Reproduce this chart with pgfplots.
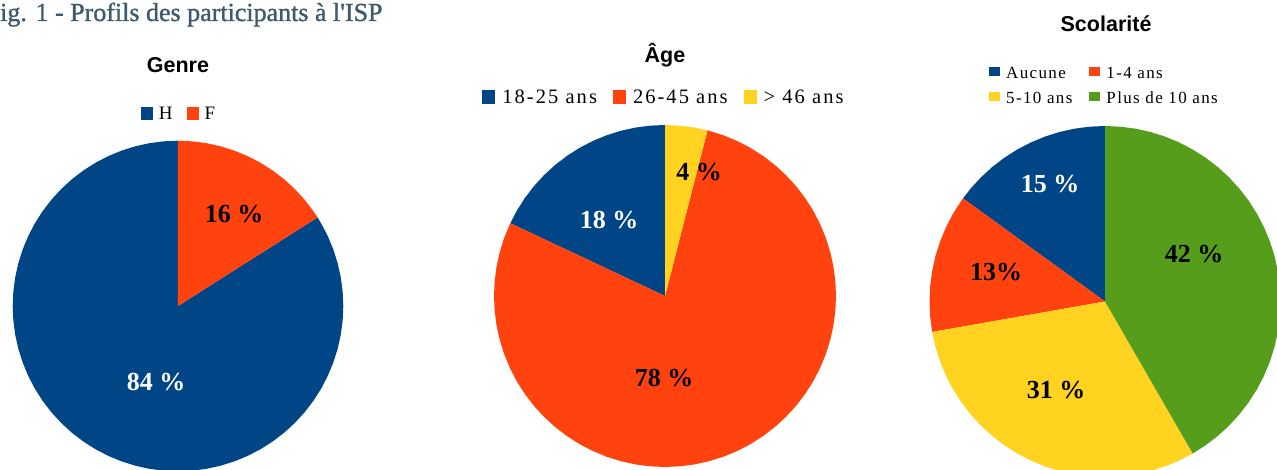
\documentclass[border=0pt]{standalone}
\usepackage{fontspec}
\setmainfont{Liberation Serif}
\newfontfamily\sansf{Liberation Sans}
\newfontfamily\titlefont[Ligatures=TeXOff, FakeBold=1.2]{Liberation Serif}
\newfontfamily\legA[LetterSpace=10]{Liberation Serif}
\newfontfamily\legS[LetterSpace=8]{Liberation Serif}
\usepackage{pgfplots}
\usepgfplotslibrary{polar}
\pgfplotsset{compat=1.18}
\definecolor{cblue}{HTML}{004586}
\definecolor{corange}{HTML}{FF420E}
\definecolor{cyellow}{HTML}{FFD320}
\definecolor{cgreen}{HTML}{579D1C}
\definecolor{ctitle}{HTML}{3D5B6D}
\pgfplotsset{
  pie/.style={scale only axis, hide axis, xmin=0, xmax=360, ymin=0, ymax=1,
    anchor=center, clip=false, area legend,
    every axis title shift=0pt,
    title style={anchor=base, inner sep=0pt, font=\sansf\bfseries\fontsize{21.5}{21.5}\selectfont},
    legend style={draw=none, fill=none, inner sep=0pt, outer sep=0pt, anchor=south,
      cells={anchor=base west},
      nodes={inner sep=0pt, text depth=0pt}},
  },
  wedge/.style={draw=none, fill=#1, mark=none},
}
\newcommand\lab{\fontsize{26}{26}\selectfont\bfseries}
\begin{document}
\begin{tikzpicture}[x=1pt,y=1pt]
\useasboundingbox (0,0) rectangle (1277,470);
\clip (0,0) rectangle (1277,470);

\node[anchor=base west, inner sep=0pt, text=ctitle, font=\titlefont\fontsize{26}{26}\selectfont] at (-14.5,449) {Fig. 1 - Profils des participants à l'ISP};

% Genre: H 84 %, F 16 %
\begin{polaraxis}[pie, at={(178pt,164pt)}, width=330.6pt, height=330.6pt,
  title={Genre}, title style={at={(0.5,1.2048)}},
  legend columns=2,
  legend style={at={(0.5,1.0626)}, font=\legA\fontsize{19}{19}\selectfont,
    /tikz/every odd column/.style={column sep=6pt},
    /tikz/every even column/.style={column sep=14pt}},
  legend image code/.code={\fill[#1] (0pt,0pt) rectangle (12pt,12.7pt);}]
\addplot[wedge=cblue] coordinates {(0,0) (90,1) (95,1) (100,1) (105,1) (110,1) (115,1) (120,1) (125,1) (130,1) (135,1) (140,1) (145,1) (150,1) (155,1) (160,1) (165,1) (170,1) (175,1) (180,1) (185,1) (190,1) (195,1) (200,1) (205,1) (210,1) (215,1) (220,1) (225,1) (230,1) (235,1) (240,1) (245,1) (250,1) (255,1) (260,1) (265,1) (270,1) (275,1) (280,1) (285,1) (290,1) (295,1) (300,1) (305,1) (310,1) (315,1) (320,1) (325,1) (330,1) (335,1) (340,1) (345,1) (350,1) (355,1) (360,1) (365,1) (370,1) (375,1) (380,1) (385,1) (390,1) (392.4,1)} -- cycle;
\addplot[wedge=corange] coordinates {(0,0) (32.4,1) (35,1) (40,1) (45,1) (50,1) (55,1) (60,1) (65,1) (70,1) (75,1) (80,1) (85,1) (90,1)} -- cycle;
\legend{H, F}
\end{polaraxis}

% Age: 18 %, 78 %, 4 %
\begin{polaraxis}[pie, at={(665pt,174pt)}, width=342pt, height=342pt,
  title={Âge}, title style={at={(0.5,1.1813)}},
  legend columns=3,
  legend style={at={(0.494,1.0614)}, font=\legA\fontsize{20.5}{20.5}\selectfont,
    /tikz/every odd column/.style={column sep=7pt},
    /tikz/every even column/.style={column sep=16pt}},
  legend image code/.code={\fill[#1] (0pt,0pt) rectangle (13pt,14pt);}]
\addplot[wedge=cblue] coordinates {(0,0) (90,1) (95,1) (100,1) (105,1) (110,1) (115,1) (120,1) (125,1) (130,1) (135,1) (140,1) (145,1) (150,1) (154.8,1)} -- cycle;
\addplot[wedge=corange] coordinates {(0,0) (154.8,1) (155,1) (160,1) (165,1) (170,1) (175,1) (180,1) (185,1) (190,1) (195,1) (200,1) (205,1) (210,1) (215,1) (220,1) (225,1) (230,1) (235,1) (240,1) (245,1) (250,1) (255,1) (260,1) (265,1) (270,1) (275,1) (280,1) (285,1) (290,1) (295,1) (300,1) (305,1) (310,1) (315,1) (320,1) (325,1) (330,1) (335,1) (340,1) (345,1) (350,1) (355,1) (360,1) (365,1) (370,1) (375,1) (380,1) (385,1) (390,1) (395,1) (400,1) (405,1) (410,1) (415,1) (420,1) (425,1) (430,1) (435,1) (435.6,1)} -- cycle;
\addplot[wedge=cyellow] coordinates {(0,0) (435.6,1) (440,1) (445,1) (450,1)} -- cycle;
\legend{18-25 ans, 26-45 ans, > 46 ans}
\end{polaraxis}

% Scolarite: 15 %, 13 %, 31 %, 42 %
\begin{polaraxis}[pie, at={(1105pt,168.5pt)}, width=351pt, height=351pt,
  title={Scolarité}, title style={at={(0.503,1.2678)}},
  legend columns=2,
  legend style={at={(0.4957,1.0627)}, font=\legS\fontsize{17}{17}\selectfont,
    row sep=12.7pt,
    nodes={text height=11.5pt},
    /tikz/every odd column/.style={column sep=6pt},
    /tikz/every even column/.style={column sep=17pt}},
  legend image code/.code={\fill[#1] (0pt,2.5pt) rectangle (11pt,12.3pt);}]
\addplot[wedge=cblue] coordinates {(0,0) (90,1) (95,1) (100,1) (105,1) (110,1) (115,1) (120,1) (125,1) (130,1) (135,1) (140,1) (144,1)} -- cycle;
\addplot[wedge=corange] coordinates {(0,0) (144,1) (145,1) (150,1) (155,1) (160,1) (165,1) (170,1) (175,1) (180,1) (185,1) (190,1)} -- cycle;
\addplot[wedge=cyellow] coordinates {(0,0) (190,1) (195,1) (200,1) (205,1) (210,1) (215,1) (220,1) (225,1) (230,1) (235,1) (240,1) (245,1) (250,1) (255,1) (260,1) (265,1) (270,1) (275,1) (280,1) (285,1) (290,1) (295,1) (300,1)} -- cycle;
\addplot[wedge=cgreen] coordinates {(0,0) (300,1) (305,1) (310,1) (315,1) (320,1) (325,1) (330,1) (335,1) (340,1) (345,1) (350,1) (355,1) (360,1) (365,1) (370,1) (375,1) (380,1) (385,1) (390,1) (395,1) (400,1) (405,1) (410,1) (415,1) (420,1) (425,1) (430,1) (435,1) (440,1) (445,1) (450,1)} -- cycle;
\legend{Aucune, 1-4 ans, 5-10 ans, Plus de 10 ans}
\end{polaraxis}

\node[font=\lab, text=white] at (156,88) {84 \%};
\node[font=\lab, text=black] at (234,256) {16 \%};
\node[font=\lab, text=white] at (609,250) {18 \%};
\node[font=\lab, text=black] at (664,92) {78 \%};
\node[font=\lab, text=black] at (699,298) {4 \%};
\node[font=\lab, text=white] at (1050,286) {15 \%};
\node[font=\lab, text=black] at (996,198) {13\%};
\node[font=\lab, text=black] at (1194,216) {42 \%};
\node[font=\lab, text=black] at (1056,80) {31 \%};
\end{tikzpicture}
\end{document}
